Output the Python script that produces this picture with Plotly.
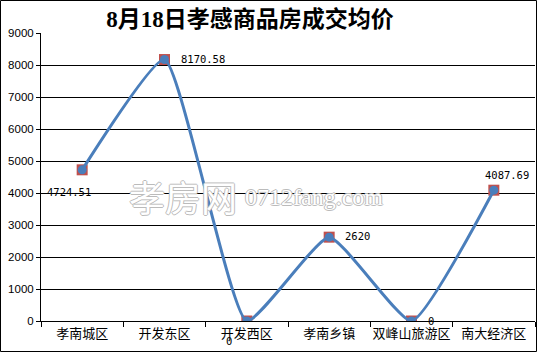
import plotly.graph_objects as go

categories = ["孝南城区", "开发东区", "开发西区", "孝南乡镇", "双峰山旅游区", "南大经济区"]
prices = [4724.51, 8170.58, 0, 2620, 0, 4087.69]
label_texts = ["4724.51", "8170.58", "0", "2620", "0", "4087.69"]
y_ticks = [0, 1000, 2000, 3000, 4000, 5000, 6000, 7000, 8000, 9000]
title_text = "8月18日孝感商品房成交均价"

fig = go.Figure()
fig.add_trace(go.Scatter(
    x=categories, y=prices, mode="markers",
    marker=dict(symbol="square", size=11, color="#C0504D",
                line=dict(color="#B04848", width=0)),
    hoverinfo="skip", showlegend=False))
fig.add_trace(go.Scatter(
    x=categories, y=prices, mode="lines+markers",
    line=dict(color="#4A7EBB", width=3, shape="spline", smoothing=0.45),
    marker=dict(symbol="circle", size=9, color="#4A7EBB"),
    showlegend=False))

# data label offsets (xshift, yshift, xanchor)
offsets = [(-13, -22, "center"), (14, 1, "left"), (-18, -20, "center"),
           (14, 1, "left"), (14, 0, "left"), (13, 15, "center")]
for cat, val, txt, (dx, dy, xa) in zip(categories, prices, label_texts, offsets):
    fig.add_annotation(x=cat, y=val, text=txt, showarrow=False,
                       xshift=dx, yshift=dy, xanchor=xa, yanchor="middle",
                       font=dict(family="DejaVu Sans Mono", size=10.5, color="black"))

# watermark
wm_shadow = "1px 0 0 #bbb, -1px 0 0 #bbb, 0 1px 0 #bbb, 0 -1px 0 #bbb"
fig.add_annotation(x=(128 - 41) / 494, y=(321 - 196) / 288, xref="paper", yref="paper",
                   text="孝房网", showarrow=False, xanchor="left", borderpad=0,
                   font=dict(family="Noto Sans CJK SC", size=36, color="white",
                             shadow=wm_shadow))
fig.add_annotation(x=(244 - 41) / 494, y=(321 - 197) / 288, xref="paper", yref="paper",
                   text="0712fang.com", showarrow=False, xanchor="left", borderpad=0,
                   font=dict(family="Liberation Serif", size=24, color="white",
                             shadow=wm_shadow))

# outer border
fig.add_shape(type="rect", xref="paper", yref="paper",
              x0=(0.5 - 41) / 494, x1=(536.5 - 41) / 494,
              y0=(321 - 351.5) / 288, y1=(321 - 0.5) / 288,
              line=dict(color="black", width=1), fillcolor="rgba(0,0,0,0)", layer="above")

fig.update_layout(
    width=537, height=352,
    margin=dict(l=41, r=2, t=33, b=31),
    paper_bgcolor="white", plot_bgcolor="white",
    title=dict(text=title_text, x=250 / 537, xref="container", xanchor="center",
               y=1 - 19 / 352, yref="container", yanchor="middle",
               font=dict(family="Liberation Serif, Noto Sans CJK SC", size=23,
                         color="black", weight="bold")),
    xaxis=dict(type="category", tickson="boundaries", ticks="outside", ticklen=5,
               tickcolor="black", showline=True, linecolor="black", linewidth=1,
               showgrid=False, range=[-0.5, 5.5], tickangle=0, automargin=False,
               tickfont=dict(family="Noto Sans CJK SC", size=13, color="black")),
    yaxis=dict(range=[0, 9000], tickvals=y_ticks, ticks="outside", ticklen=4,
               tickcolor="black", showline=True, linecolor="black", linewidth=1,
               showgrid=True, gridcolor="black", gridwidth=1, zeroline=False,
               automargin=False,
               tickfont=dict(family="Liberation Sans", size=11.5, color="black")),
)

fig.write_html("out.html")
